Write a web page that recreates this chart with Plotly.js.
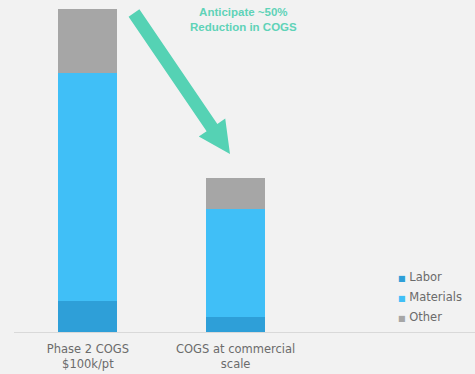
<!DOCTYPE html>
<html><head><meta charset="utf-8">
<script src="https://cdn.plot.ly/plotly-3.0.1.min.js"></script>
<style>html,body{margin:0;padding:0;background:#f2f2f2;}#chart{width:475px;height:374px;}</style>
</head><body><div id="chart"></div>
<script>
var categories = ["Phase 2 COGS<br>$100k/pt", "COGS at commercial<br>scale"];
var seriesNames = ["Labor", "Materials", "Other"];
var labor = [9.6, 4.6];
var materials = [70.6, 33.4];
var other = [19.8, 9.6];
var colors = ["#2e9fd8", "#40bff7", "#a6a6a6"];
var calloutLines = ["Anticipate ~50%", "Reduction in COGS"];

var W = 475, H = 374;
var M = {l: 14, r: 0, t: 9, b: 42};
var pw = W - M.l - M.r, ph = H - M.t - M.b;
function px(x){ return (x - M.l) / pw; }
function py(y){ return (H - M.b - y) / ph; }

var vals = [labor, materials, other];
var traces = seriesNames.map(function(n, i){
  return {type: "bar", name: n, x: categories, y: vals[i],
          marker: {color: colors[i], line: {width: 0}}, showlegend: false,
          hoverinfo: "skip"};
});

// arrow polygon (decoration) in pixel space -> paper
var S = [134, 13], T = [230, 154];
var dx = T[0]-S[0], dy = T[1]-S[1], L = Math.sqrt(dx*dx+dy*dy);
var u = [dx/L, dy/L], n = [u[1], -u[0]];
var hl = 32, sw = 6.5, hw = 16;
var B = [T[0]-hl*u[0], T[1]-hl*u[1]];
function P(c, k){ return [c[0]+k*n[0], c[1]+k*n[1]]; }
var pts = [P(S, sw), P(B, sw), P(B, hw), T, P(B, -hw), P(B, -sw), P(S, -sw)];
var path = pts.map(function(p, i){ return (i ? "L" : "M") + px(p[0]).toFixed(4) + "," + py(p[1]).toFixed(4); }).join(" ") + " Z";

var annotations = [{xref: "paper", yref: "paper", x: px(243), y: py(19),
    text: calloutLines.map(function(t){ return "<b>" + t + "</b>"; }).join("<br>"),
    showarrow: false, xanchor: "center", yanchor: "middle",
    font: {family: "Liberation Sans, Arial, sans-serif", size: 11.5, color: "#5fd3b8"}}];
seriesNames.forEach(function(nm, i){
  annotations.push({xref: "paper", yref: "paper", x: px(396), y: py(277 + i*20),
    text: '<span style="color:' + colors[i] + ';font-size:8px">■</span> ' + nm,
    showarrow: false, xanchor: "left", yanchor: "middle",
    font: {family: "DejaVu Sans, sans-serif", size: 11.5, color: "#6b6b6b"}});
});

var layout = {
  width: W, height: H, margin: M,
  paper_bgcolor: "#f2f2f2", plot_bgcolor: "#f2f2f2",
  barmode: "stack", bargap: 0.6,
  showlegend: false,
  xaxis: {type: "category", range: [-0.5, 2.62], showline: true, linecolor: "#d9d9d9", linewidth: 1,
          ticks: "", showgrid: false, zeroline: false, ticklabelstandoff: 6,
          tickfont: {family: "DejaVu Sans, sans-serif", size: 11.5, color: "#6b6b6b"}},
  yaxis: {range: [0, 100], visible: false, showgrid: false, zeroline: false},
  shapes: [{type: "path", xref: "paper", yref: "paper", path: path,
            fillcolor: "#55d2b4", line: {width: 0}}],
  annotations: annotations
};
Plotly.newPlot("chart", traces, layout, {displayModeBar: false, staticPlot: true});
</script></body></html>
